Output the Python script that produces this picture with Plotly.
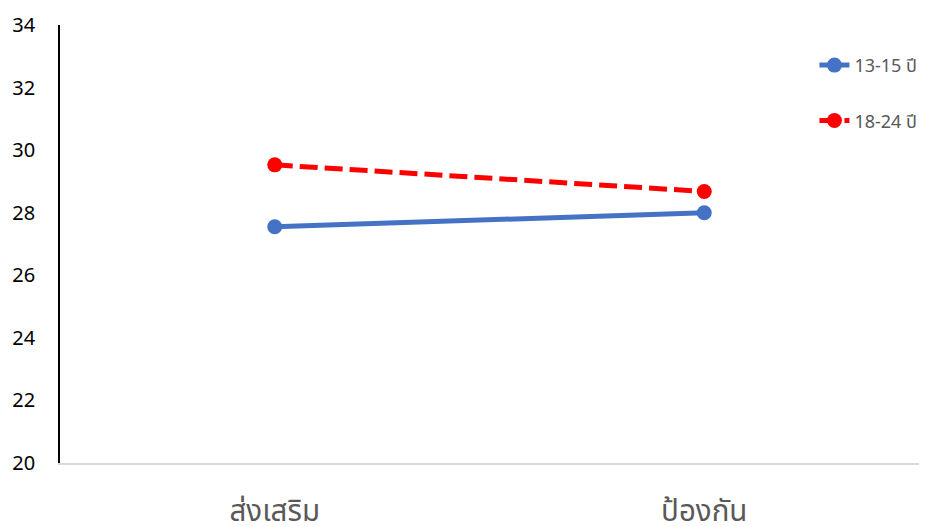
import plotly.graph_objects as go

categories = ["ส่งเสริม", "ป้องกัน"]
series_names = ["13-15 ปี", "18-24 ปี"]
values_13_15 = [27.55, 28.0]
values_18_24 = [29.53, 28.68]
y_ticks = [20, 22, 24, 26, 28, 30, 32, 34]

fig = go.Figure()
fig.add_trace(go.Scatter(
    x=categories, y=values_13_15, name=series_names[0], mode="lines+markers",
    line=dict(color="#4472C4", width=5), marker=dict(size=15, color="#4472C4"),
    legendgroup="a"))
fig.add_trace(go.Scatter(
    x=categories, y=values_18_24, name=series_names[1], mode="lines+markers",
    line=dict(color="#FF0000", width=5, dash="18px,7px"), marker=dict(size=15, color="#FF0000"),
    legendgroup="b"))

# the page body has an 8px default margin, so the figure is sized/offset to compensate
fig.update_layout(
    width=922, height=518,
    margin=dict(l=52, r=8, t=17, b=63),
    paper_bgcolor="white", plot_bgcolor="white",
    font=dict(family="Noto Sans, Noto Sans Thai, sans-serif"),
    showlegend=True,
    legend=dict(x=1.004, y=0.95, xanchor="right", yanchor="top",
                font=dict(size=18, color="#595959"), tracegroupgap=29,
                bgcolor="rgba(0,0,0,0)"),
    xaxis=dict(type="category", range=[-0.5, 1.5], showgrid=False,
               showline=True, linecolor="#D9D9D9", linewidth=2,
               ticks="", tickfont=dict(size=29.5, color="#595959"),
               ticklabelstandoff=21, zeroline=False, automargin=False),
    yaxis=dict(range=[20, 34], tickvals=y_ticks, showgrid=False,
               showline=True, linecolor="black", linewidth=1.5,
               ticks="", tickfont=dict(size=20, color="black"),
               ticklabelstandoff=19, zeroline=False, automargin=False),
)

fig.write_html("out.html")
